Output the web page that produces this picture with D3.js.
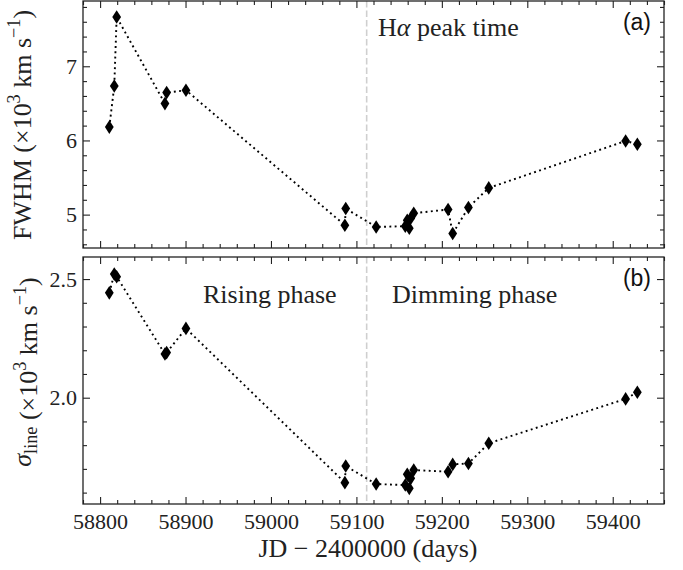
<!DOCTYPE html>
<html>
<head>
<meta charset="utf-8">
<script src="https://cdn.jsdelivr.net/npm/d3@7/dist/d3.min.js"></script>
<style>
  html, body { margin: 0; padding: 0; background: #fff; }
  svg { display: block; }
</style>
</head>
<body>
<svg id="chart" width="683" height="570"></svg>
<script>
// Observation epochs (JD - 2400000)
const jd = [58810.8, 58816.6, 58819.4, 58875.9, 58877.9, 58900.5,
            59086.5, 59087.5, 59123.1,
            59157.2, 59159.5, 59161.9, 59163.6, 59167.1,
            59207.3, 59212.7, 59231.1, 59254.9, 59415.1, 59428.8];

// FWHM of the broad H-alpha line (10^3 km/s)
const fwhm = [6.18, 6.735, 7.664, 6.497, 6.645, 6.677,
              4.857, 5.082, 4.834,
              4.844, 4.925, 4.817, 4.952, 5.019,
              5.069, 4.745, 5.096, 5.36, 5.993, 5.949];

// Line dispersion sigma_line (10^3 km/s)
const sigma = [2.442, 2.521, 2.51, 2.184, 2.19, 2.292,
               1.642, 1.712, 1.636,
               1.632, 1.677, 1.618, 1.66, 1.695,
               1.688, 1.719, 1.723, 1.808, 1.995, 2.023];

const peakTime = 59112;

const xTicks = [58800, 58900, 59000, 59100, 59200, 59300, 59400];
const xTickLabels = ["58800", "58900", "59000", "59100", "59200", "59300", "59400"];
const fwhmTicks = [5, 6, 7];
const fwhmTickLabels = ["5", "6", "7"];
const sigmaTicks = [2.0, 2.5];
const sigmaTickLabels = ["2.0", "2.5"];

const serif = "'Liberation Serif', 'DejaVu Serif', serif";
const sans = "'Liberation Sans', 'DejaVu Sans', sans-serif";

const svg = d3.select("#chart");
const left = 83, right = 664;

const x = d3.scaleLinear().domain([58780, 59460]).range([left, right]);

const panels = [
  { key: "a", top: 1, bottom: 248, domain: [4.55, 7.88], values: fwhm,
    ticks: fwhmTicks, labels: fwhmTickLabels, minorStep: 0.2 },
  { key: "b", top: 257, bottom: 504, domain: [1.552, 2.593], values: sigma,
    ticks: sigmaTicks, labels: sigmaTickLabels, minorStep: 0.1 }
];

function minorValues(domain, step, majors) {
  const out = [];
  const start = Math.ceil(domain[0] / step - 1e-9);
  const end = Math.floor(domain[1] / step + 1e-9);
  for (let i = start; i <= end; i++) {
    const v = +(i * step).toFixed(6);
    if (!majors.some(m => Math.abs(m - v) < 1e-6)) out.push(v);
  }
  return out;
}

const xMinor = minorValues(x.domain(), 20, xTicks);

function styleAxis(g) {
  g.select(".domain").remove();
  g.selectAll(".tick line").attr("stroke", "#222").attr("stroke-width", 1.1);
  g.selectAll(".tick text").attr("fill", "#222").attr("font-family", serif);
}

// diamond marker path (thin diamond)
const dw = 4.4, dh = 6.8;
const diamond = `M0,${-dh}L${dw},0L0,${dh}L${-dw},0Z`;

panels.forEach((p, idx) => {
  const y = d3.scaleLinear().domain(p.domain).range([p.bottom, p.top]);
  const g = svg.append("g");
  const yMinor = minorValues(p.domain, p.minorStep, p.ticks);

  // peak-time marker
  g.append("line")
    .attr("x1", x(peakTime)).attr("x2", x(peakTime))
    .attr("y1", p.top).attr("y2", p.bottom)
    .attr("stroke", "#cfcfcf").attr("stroke-width", 1.6)
    .attr("stroke-dasharray", "6.5,3");

  // connecting dotted line
  const line = d3.line().x(d => x(d[0])).y(d => y(d[1]));
  const pts = jd.map((t, i) => [t, p.values[i]]);
  g.append("path")
    .attr("d", line(pts))
    .attr("fill", "none")
    .attr("stroke", "#000")
    .attr("stroke-width", 1.9)
    .attr("stroke-dasharray", "1.9,3.4");

  // markers
  g.selectAll("path.pt").data(pts).join("path")
    .attr("class", "pt")
    .attr("d", diamond)
    .attr("transform", d => `translate(${x(d[0])},${y(d[1])})`)
    .attr("fill", "#000");

  // x axes (bottom + top), inward ticks
  const isLast = idx === panels.length - 1;
  g.append("g").attr("transform", `translate(0,${p.bottom})`)
    .call(d3.axisBottom(x).tickValues(xTicks).tickSize(-7).tickPadding(9)
      .tickFormat((d, i) => isLast ? xTickLabels[i] : ""))
    .call(styleAxis)
    .selectAll("text").attr("font-size", 22);
  g.append("g").attr("transform", `translate(0,${p.bottom})`)
    .call(d3.axisBottom(x).tickValues(xMinor).tickSize(-4).tickFormat(""))
    .call(styleAxis);
  g.append("g").attr("transform", `translate(0,${p.top})`)
    .call(d3.axisTop(x).tickValues(xTicks).tickSize(-7).tickFormat(""))
    .call(styleAxis);
  g.append("g").attr("transform", `translate(0,${p.top})`)
    .call(d3.axisTop(x).tickValues(xMinor).tickSize(-4).tickFormat(""))
    .call(styleAxis);

  // y axes (left + right), inward ticks
  g.append("g").attr("transform", `translate(${left},0)`)
    .call(d3.axisLeft(y).tickValues(p.ticks).tickSize(-7).tickPadding(6)
      .tickFormat((d, i) => p.labels[i]))
    .call(styleAxis)
    .selectAll("text").attr("font-size", 22);
  g.append("g").attr("transform", `translate(${left},0)`)
    .call(d3.axisLeft(y).tickValues(yMinor).tickSize(-4).tickFormat(""))
    .call(styleAxis);
  g.append("g").attr("transform", `translate(${right},0)`)
    .call(d3.axisRight(y).tickValues(p.ticks).tickSize(-7).tickFormat(""))
    .call(styleAxis);
  g.append("g").attr("transform", `translate(${right},0)`)
    .call(d3.axisRight(y).tickValues(yMinor).tickSize(-4).tickFormat(""))
    .call(styleAxis);

  // frame
  g.append("rect")
    .attr("x", left).attr("y", p.top)
    .attr("width", right - left).attr("height", p.bottom - p.top)
    .attr("fill", "none").attr("stroke", "#222").attr("stroke-width", 1.3);

  // panel letter
  g.append("text")
    .attr("x", 651).attr("y", p.top + 29)
    .attr("text-anchor", "end")
    .attr("font-family", sans).attr("font-size", 23)
    .attr("fill", "#111")
    .text(`(${p.key})`);
});

// annotations
const ann = svg.append("g").attr("font-family", serif).attr("font-size", 26).attr("fill", "#222");
const ha = ann.append("text").attr("x", 378).attr("y", 36);
ha.append("tspan").text("H");
ha.append("tspan").attr("font-style", "italic").text("α");
ha.append("tspan").text(" peak time");
ann.append("text").attr("x", 203).attr("y", 303).text("Rising phase");
ann.append("text").attr("x", 392).attr("y", 303).text("Dimming phase");

// axis titles
const labelSize = 26;
svg.append("text")
  .attr("x", 368).attr("y", 557)
  .attr("text-anchor", "middle")
  .attr("font-family", serif).attr("font-size", labelSize).attr("fill", "#222")
  .text("JD − 2400000 (days)");

function addUnits(t, size) {
  const s = size * 0.7, up = size * 0.42;
  t.append("tspan").text(" (×10");
  t.append("tspan").attr("font-size", s).attr("dy", -up).text("3");
  t.append("tspan").attr("dy", up).text(" km s");
  t.append("tspan").attr("font-size", s).attr("dy", -up).text("−1");
  t.append("tspan").attr("dy", up).text(")");
}

const yl1 = svg.append("text")
  .attr("transform", `translate(31,125) rotate(-90)`)
  .attr("text-anchor", "middle")
  .attr("font-family", serif).attr("font-size", labelSize).attr("fill", "#222");
yl1.append("tspan").text("FWHM");
addUnits(yl1, labelSize);

const yl2 = svg.append("text")
  .attr("transform", `translate(31,372) rotate(-90)`)
  .attr("text-anchor", "middle")
  .attr("font-family", serif).attr("font-size", labelSize).attr("fill", "#222");
yl2.append("tspan").attr("font-style", "italic").text("σ");
yl2.append("tspan").attr("font-size", labelSize * 0.7).attr("dy", labelSize * 0.22).text("line");
yl2.append("tspan").attr("dy", -labelSize * 0.22).text("");
addUnits(yl2, labelSize);
</script>
</body>
</html>
